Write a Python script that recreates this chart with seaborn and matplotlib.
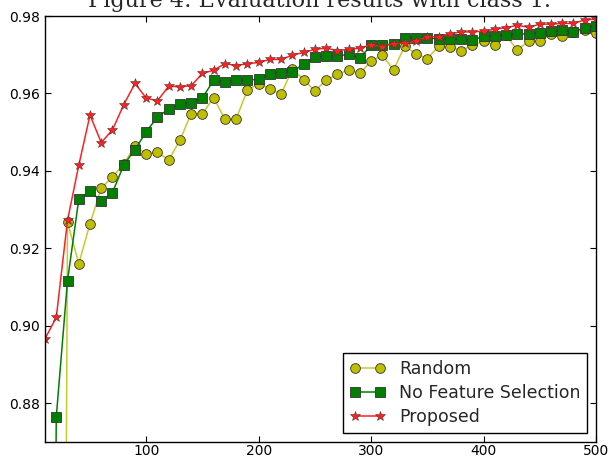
import numpy as np
import pandas as pd
import matplotlib
matplotlib.use("Agg")
import matplotlib.pyplot as plt
import seaborn as sns


# =========================
# data
# =========================
n_features = list(range(10, 510, 10))

random_acc = [
    0.300, 0.350, 0.9268, 0.9160, 0.9263, 0.9356, 0.9384, 0.9418, 0.9464, 0.9444,
    0.9448, 0.9428, 0.9479, 0.9548, 0.9548, 0.9589, 0.9533, 0.9534, 0.9609, 0.9625,
    0.9612, 0.9598, 0.9663, 0.9636, 0.9606, 0.9635, 0.9649, 0.9661, 0.9652, 0.9683,
    0.9699, 0.9661, 0.9723, 0.9702, 0.9690, 0.9722, 0.9720, 0.9711, 0.9724, 0.9735,
    0.9724, 0.9750, 0.9712, 0.9735, 0.9735, 0.9754, 0.9749, 0.9759, 0.9764, 0.9757,
]

no_fs_acc = [
    0.450, 0.8764, 0.9116, 0.9326, 0.9347, 0.9322, 0.9344, 0.9415, 0.9455, 0.9501,
    0.9539, 0.9560, 0.9573, 0.9576, 0.9589, 0.9634, 0.9630, 0.9634, 0.9634, 0.9637,
    0.9651, 0.9654, 0.9656, 0.9676, 0.9695, 0.9697, 0.9697, 0.9701, 0.9692, 0.9724,
    0.9724, 0.9729, 0.9744, 0.9744, 0.9744, 0.9741, 0.9741, 0.9740, 0.9737, 0.9748,
    0.9749, 0.9752, 0.9753, 0.9754, 0.9757, 0.9761, 0.9763, 0.9759, 0.9770, 0.9775,
]

proposed_acc = [
    0.8966, 0.9021, 0.9272, 0.9414, 0.9544, 0.9473, 0.9506, 0.9571, 0.9626, 0.9588,
    0.9581, 0.9619, 0.9617, 0.9620, 0.9652, 0.9660, 0.9677, 0.9672, 0.9677, 0.9680,
    0.9688, 0.9688, 0.9699, 0.9706, 0.9714, 0.9717, 0.9711, 0.9714, 0.9717, 0.9726,
    0.9721, 0.9729, 0.9730, 0.9735, 0.9747, 0.9746, 0.9754, 0.9759, 0.9759, 0.9761,
    0.9766, 0.9770, 0.9776, 0.9771, 0.9779, 0.9779, 0.9781, 0.9781, 0.9790, 0.9792,
]

method_names = ["Random", "No Feature Selection", "Proposed"]
x_ticks = [100, 200, 300, 400, 500]
y_ticks = [0.88, 0.90, 0.92, 0.94, 0.96, 0.98]


def build_frame():
    parts = []
    for name, vals in zip(method_names, [random_acc, no_fs_acc, proposed_acc]):
        parts.append(pd.DataFrame({"n": n_features, "acc": vals, "method": name}))
    return pd.concat(parts, ignore_index=True)


def main():
    sns.set_style("ticks")
    plt.rcParams["font.family"] = ["DejaVu Sans"]
    plt.rcParams["xtick.direction"] = "in"
    plt.rcParams["ytick.direction"] = "in"
    plt.rcParams["xtick.top"] = True
    plt.rcParams["ytick.right"] = True

    df = build_frame()

    fig = plt.figure(figsize=(6.1, 4.59), dpi=100)
    ax = fig.add_axes([0.0738, 0.0377, 0.9032, 0.9273])

    palette = {"Random": "#bfbf00", "No Feature Selection": "#007f00", "Proposed": "#ff0000"}
    markers = {"Random": "o", "No Feature Selection": "s", "Proposed": "*"}

    sns.lineplot(
        data=df, x="n", y="acc", hue="method", style="method",
        hue_order=method_names, style_order=method_names,
        palette=palette, markers=markers, dashes=False,
        markersize=7, markeredgecolor="#333333", markeredgewidth=0.6,
        linewidth=1.1, legend=False, ax=ax,
    )
    ax.lines[0].set_color("#c8c830")
    ax.lines[0].set_markerfacecolor("#bfbf00")
    ax.lines[2].set_color("#ff2020")
    ax.lines[2].set_markersize(7.5)
    ax.lines[2].set_markeredgecolor("#553333")
    ax.lines[2].set_markeredgewidth(0.4)

    ax.set_xlim(10, 500)
    ax.set_ylim(0.87, 0.98)
    ax.set_xticks(x_ticks)
    ax.set_yticks(y_ticks)
    ax.set_yticklabels([f"{v:.2f}" for v in y_ticks])
    ax.tick_params(labelsize=10, length=4, width=0.8, colors="black")
    ax.tick_params(axis="x", pad=2)
    ax.set_xlabel("")
    ax.set_ylabel("")
    for sp in ax.spines.values():
        sp.set_color("black")
        sp.set_linewidth(1.0)

    leg = ax.legend(ax.lines[:3], method_names, loc="lower right",
                    numpoints=2, fontsize=12.5, fancybox=False,
                    framealpha=1, edgecolor="black", borderpad=0.4,
                    labelspacing=0.35, handlelength=2.0)
    leg.get_frame().set_linewidth(1.0)

    fig.text(0.523, 1 - 7 / 459, "Figure 4: Evaluation results with class 1.",
             ha="center", va="baseline", fontsize=16, family="DejaVu Serif")

    fig.savefig("out.png", dpi=100)


if __name__ == "__main__":
    main()
